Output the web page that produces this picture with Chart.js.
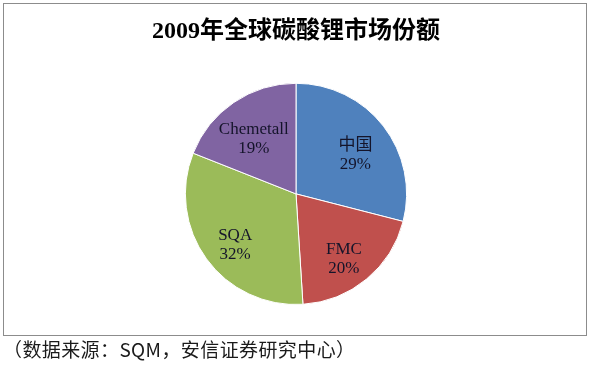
<!DOCTYPE html>
<html>
<head>
<meta charset="utf-8">
<script src="https://cdn.jsdelivr.net/npm/chart.js@4"></script>
<style>
    body{margin:0;background:#fff;}
    #wrap{position:relative;width:592px;height:365px;}
    #frame{position:absolute;left:3px;top:3px;width:584px;height:333px;border:1px solid #8c8c8c;box-sizing:border-box;}
    #chart{position:absolute;left:0;top:0;}
    #source{position:absolute;left:3px;top:336px;font-family:"Noto Sans CJK SC",sans-serif;font-size:19px;letter-spacing:0.4px;color:#1a1a1a;line-height:26px;white-space:nowrap;}
</style>
</head>
<body>
<div id="wrap">
    <div id="frame"></div>
    <canvas id="chart" width="592" height="365"></canvas>
    <div id="source">（数据来源：SQM，安信证券研究中心）</div>
</div>
<script>
// market share data, clockwise from 12 o'clock
const categories=['中国','FMC','SQA','Chemetall'];
const shares=[29,20,32,19];
const sliceColors=['#4F81BD','#C0504D','#9BBB59','#8064A2'];
const chartTitle='2009年全球碳酸锂市场份额';

// draws "name" and "xx%" inside every slice
const sliceLabels={
    id:'sliceLabels',
    afterDatasetsDraw(chart){
        const ctx=chart.ctx;
        const meta=chart.getDatasetMeta(0);
        const total=shares.reduce((a,b)=>a+b,0);
        ctx.save();
        ctx.font='17px "Liberation Serif","Noto Sans CJK SC",serif';
        ctx.fillStyle='#14142a';
        ctx.textAlign='center';
        ctx.textBaseline='middle';
        meta.data.forEach((arc,i)=>{
            const p=arc.getProps(['x','y','startAngle','endAngle','outerRadius'],true);
            const mid=(p.startAngle+p.endAngle)/2;
            const r=p.outerRadius*0.68;
            const cx=p.x+Math.cos(mid)*r;
            // excel puts the label box a bit lower than the pure radial spot
            const cy=p.y+Math.sin(mid)*r+7;
            ctx.fillText(categories[i],cx,cy-9.5);
            ctx.fillText(Math.round(shares[i]/total*100)+'%',cx,cy+9.5);
        });
        ctx.restore();
    }
};

new Chart(document.getElementById('chart').getContext('2d'),{
    type:'pie',
    data:{
        labels:categories,
        datasets:[{
            data:shares,
            backgroundColor:sliceColors,
            borderColor:'#ffffff',
            borderWidth:1
        }]
    },
    options:{
        responsive:false,
        animation:false,
        layout:{padding:{top:0,bottom:60,left:0,right:0}},
        plugins:{
            legend:{display:false},
            tooltip:{enabled:false},
            title:{
                display:true,
                text:chartTitle,
                color:'#000',
                font:{family:'"Liberation Serif","Noto Sans CJK SC",serif',size:24,weight:'bold'},
                padding:{top:17,bottom:37}
            }
        }
    },
    plugins:[sliceLabels]
});
</script>
</body>
</html>
